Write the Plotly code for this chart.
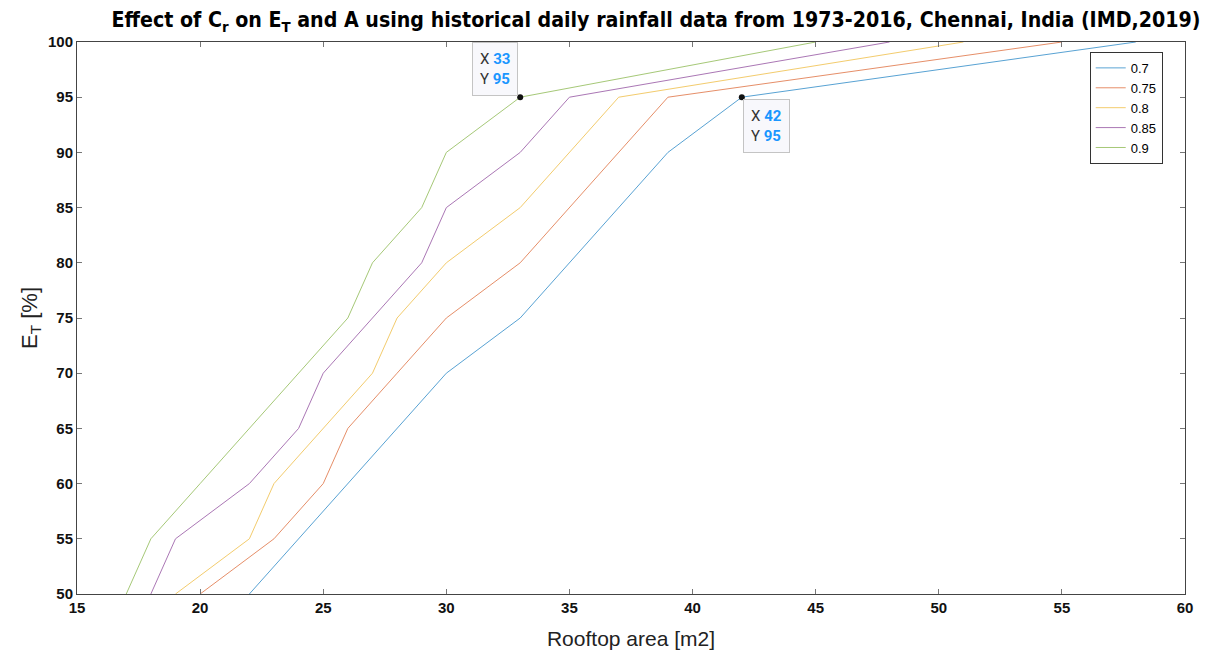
import plotly.graph_objects as go

# Runoff coefficient series: rooftop area [m2] needed for each E_T level [%]
ET_LEVELS = [50, 55, 60, 65, 70, 75, 80, 85, 90, 95, 100]
AREA_07 = [22, 24, 26, 28, 30, 33, 35, 37, 39, 42, 58]
AREA_075 = [20, 23, 25, 26, 28, 30, 33, 35, 37, 39, 55]
AREA_08 = [19, 22, 23, 25, 27, 28, 30, 33, 35, 37, 51]
AREA_085 = [18, 19, 22, 24, 25, 27, 29, 30, 33, 35, 48]
AREA_09 = [17, 18, 20, 22, 24, 26, 27, 29, 30, 33, 45]

SERIES = [
    ("0.7", AREA_07, "#0072BD"),
    ("0.75", AREA_075, "#D95319"),
    ("0.8", AREA_08, "#EDB120"),
    ("0.85", AREA_085, "#7E2F8E"),
    ("0.9", AREA_09, "#77AC30"),
]

# data tips: (series area list, index into ET_LEVELS, box side)
TIPS = [(AREA_09, 9, "above"), (AREA_07, 9, "below")]

fig = go.Figure()

for name, area, color in SERIES:
    fig.add_trace(
        go.Scatter(
            x=area,
            y=ET_LEVELS,
            mode="lines",
            name=name,
            line=dict(color=color, width=1),
            opacity=0.65,
        )
    )

tip_x = [a[i] for a, i, _ in TIPS]
tip_y = [ET_LEVELS[i] for a, i, _ in TIPS]
fig.add_trace(
    go.Scatter(
        x=tip_x,
        y=tip_y,
        mode="markers",
        marker=dict(color="#111111", size=6),
        showlegend=False,
        cliponaxis=False,
    )
)

for (area, i, where), xv, yv in zip(TIPS, tip_x, tip_y):
    txt = (
        f"X <span style='color:#1A96FF'><b>{xv}</b></span><br>"
        f"Y <span style='color:#1A96FF'><b>{yv}</b></span>"
    )
    if where == "above":
        anchor = dict(xanchor="right", yanchor="bottom", xshift=-2, yshift=1)
    else:
        anchor = dict(xanchor="left", yanchor="top", xshift=1, yshift=-2)
    fig.add_annotation(
        x=xv,
        y=yv,
        text=txt,
        showarrow=False,
        align="left",
        bgcolor="#F8F8FC",
        bordercolor="#C4C4C4",
        borderwidth=1,
        borderpad=7,
        font=dict(family="Roboto, Arial", size=15, color="#333333"),
        **anchor,
    )

# the page body adds an 8px offset, so the figure is sized to compensate
fig.update_layout(
    width=1201,
    height=646,
    margin=dict(l=69, r=24, t=34, b=60),
    paper_bgcolor="white",
    plot_bgcolor="white",
    title=dict(
        text="<b>Effect of C<sub>r</sub> on E<sub>T</sub> and A using historical daily rainfall data from 1973-2016, Chennai, India (IMD,2019)</b>",
        x=648 / 1201,
        xanchor="center",
        y=0.982,
        yanchor="middle",
        font=dict(family="DejaVu Sans Condensed, Liberation Sans, Arial", size=21.2, color="black"),
    ),
    legend=dict(
        x=0.914,
        y=0.982,
        xanchor="left",
        yanchor="top",
        bgcolor="white",
        bordercolor="#333333",
        borderwidth=1,
        font=dict(family="Liberation Sans, Arial", size=13, color="black"),
        tracegroupgap=0,
    ),
    showlegend=True,
)

fig.update_xaxes(
    range=[15, 60],
    tickvals=[15, 20, 25, 30, 35, 40, 45, 50, 55, 60],
    ticks="inside",
    ticklen=5,
    tickcolor="#777777",
    showline=True,
    linecolor="#444444",
    linewidth=1,
    mirror="ticks",
    showgrid=False,
    zeroline=False,
    automargin=False,
    tickfont=dict(family="Liberation Sans, Arial", size=15, color="#111111", weight="bold"),
    title=dict(text="Rooftop area [m2]", font=dict(family="Liberation Sans, Arial", size=21, color="#222222"), standoff=16),
)
fig.update_yaxes(
    range=[50, 100],
    tickvals=[50, 55, 60, 65, 70, 75, 80, 85, 90, 95, 100],
    ticks="inside",
    ticklen=5,
    tickcolor="#777777",
    showline=True,
    linecolor="#444444",
    linewidth=1,
    mirror="ticks",
    showgrid=False,
    zeroline=False,
    automargin=False,
    tickfont=dict(family="Liberation Sans, Arial", size=15, color="#111111", weight="bold"),
    title=dict(text="E<sub>T</sub> [%]", font=dict(family="Liberation Sans, Arial", size=22, color="#222222"), standoff=4),
)

fig.write_html("out.html")
